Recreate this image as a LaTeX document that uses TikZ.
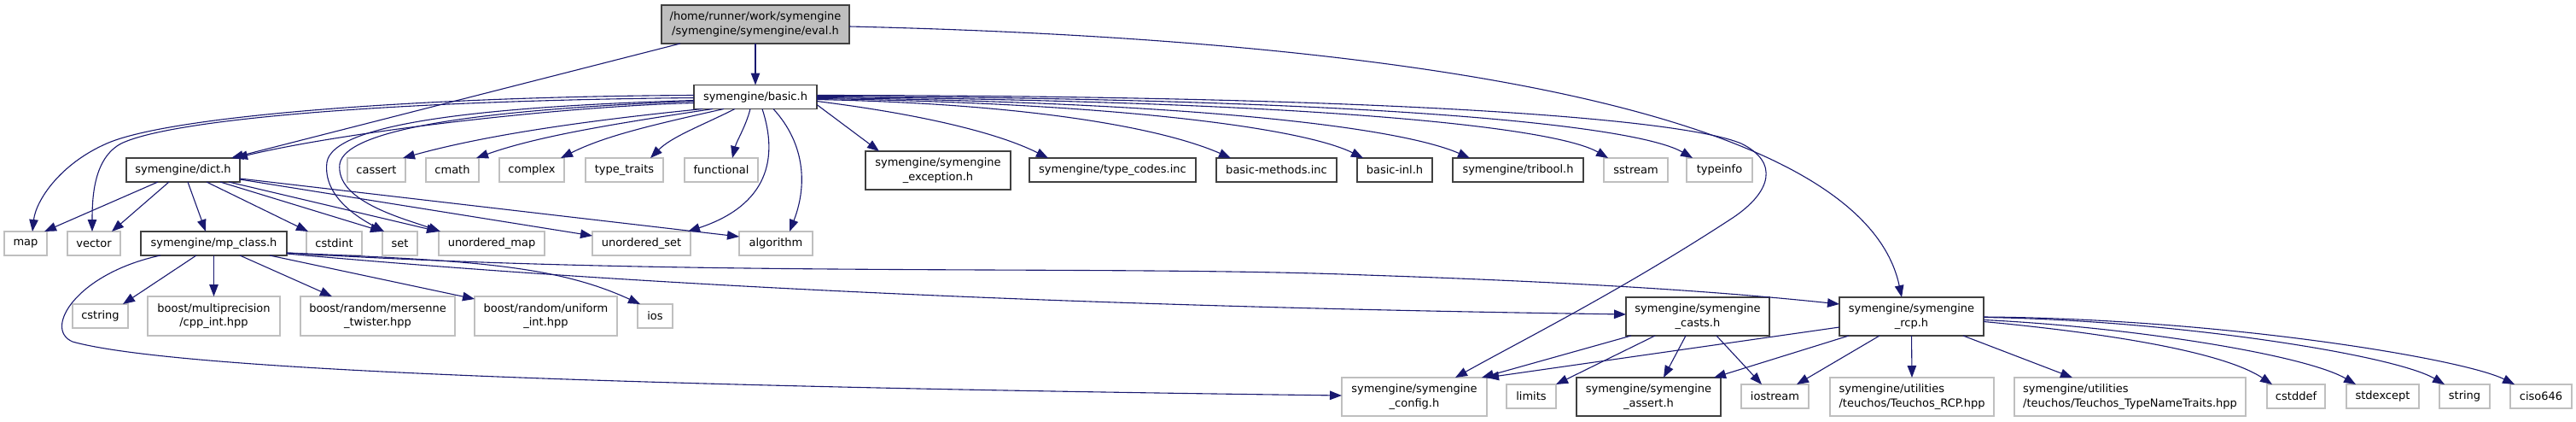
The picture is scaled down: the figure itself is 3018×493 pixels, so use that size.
\documentclass[tikz,border=0pt]{standalone}
\usepackage{fontspec}
\setmainfont{DejaVu Sans}
\usetikzlibrary{arrows.meta}
\definecolor{edgeblue}{HTML}{191970}
\definecolor{extgray}{HTML}{BFBFBF}
\definecolor{evalfill}{HTML}{BFBFBF}
\definecolor{docborder}{HTML}{404040}
\newcommand{\gnode}[6]{\node[#1,minimum width=#4pt,minimum height=#5pt] (#2) at (#3) {#6};}
\begin{document}
\begin{tikzpicture}[x=1pt,y=-1pt,
  box/.style={line width=1.1pt,inner sep=0pt,outer sep=0pt,fill=white,
    font=\fontsize{13}{16.7}\selectfont,align=center},
  doc/.style={box,draw=docborder},
  ext/.style={box,draw=extgray},
  evalbox/.style={box,draw=docborder,fill=evalfill},
  edge/.style={draw=edgeblue,line width=1.1pt,-{Triangle[length=14pt,width=10.5pt]}}]
\fill[white] (0,0) rectangle (3018,493);
\useasboundingbox (0,0) rectangle (3018,493);
% documented nodes
\gnode{evalbox}{eval}{885,28.5}{220}{45}{/home/runner/work/symengine\\/symengine/symengine/eval.h}
\gnode{doc}{basic}{885,113.5}{144}{28}{symengine/basic.h}
\gnode{doc}{dict}{214.5,199}{133}{28}{symengine/dict.h}
\gnode{doc}{exception}{1099,199.5}{170}{45}{symengine/symengine\\\_exception.h}
\gnode{doc}{typecodes}{1303.5,199}{195}{28}{symengine/type\_codes.inc}
\gnode{doc}{bmethods}{1495.5,199}{141}{28}{basic-methods.inc}
\gnode{doc}{binl}{1634,199}{88}{28}{basic-inl.h}
\gnode{doc}{tribool}{1778.5,199}{153}{28}{symengine/tribool.h}
\gnode{doc}{mpclass}{250.5,285}{171}{28}{symengine/mp\_class.h}
\gnode{doc}{casts}{1989,370.5}{168}{45}{symengine/symengine\\\_casts.h}
\gnode{doc}{rcp}{2239.5,370.5}{169}{45}{symengine/symengine\\\_rcp.h}
\gnode{doc}{assert}{1931.5,464.5}{169}{45}{symengine/symengine\\\_assert.h}
% external nodes
\gnode{ext}{cassert}{441,199}{68}{28}{cassert}
\gnode{ext}{cmath}{530,199}{62}{28}{cmath}
\gnode{ext}{complex}{623,199}{76}{28}{complex}
\gnode{ext}{ttraits}{731.5,199}{91}{28}{type\_traits}
\gnode{ext}{functional}{845,199}{86}{28}{functional}
\gnode{ext}{sstream}{1916.5,199}{75}{28}{sstream}
\gnode{ext}{typeinfo}{2014.5,199}{77}{28}{typeinfo}
\gnode{ext}{map}{30,285}{50}{28}{map}
\gnode{ext}{vector}{110,285}{62}{28}{vector}
\gnode{ext}{cstdint}{391.5,285}{65}{28}{cstdint}
\gnode{ext}{set}{468.5,285}{41}{28}{set}
\gnode{ext}{umap}{576,285}{124}{28}{unordered\_map}
\gnode{ext}{uset}{751.5,285}{115}{28}{unordered\_set}
\gnode{ext}{algorithm}{909,285}{86}{28}{algorithm}
\gnode{ext}{cstring}{117.5,370}{65}{28}{cstring}
\gnode{ext}{cppint}{250.5,370}{155}{46}{boost/multiprecision\\/cpp\_int.hpp}
\gnode{ext}{mersenne}{442.5,370}{181}{46}{boost/random/mersenne\\\_twister.hpp}
\gnode{ext}{uniform}{639.5,370}{167}{46}{boost/random/uniform\\\_int.hpp}
\gnode{ext}{ios}{767.5,370}{41}{28}{ios}
\gnode{ext}{config}{1657,464.5}{170}{45}{symengine/symengine\\\_config.h}
\gnode{ext}{limits}{1794,464}{58}{28}{limits}
\gnode{ext}{iostream}{2079.5,464}{79}{28}{iostream}
\gnode{ext,align=left}{teuchosrcp}{2240,464.5}{192}{45}{symengine/utilities\\/teuchos/Teuchos\_RCP.hpp}
\gnode{ext,align=left}{typename}{2495.5,464.5}{271}{45}{symengine/utilities\\/teuchos/Teuchos\_TypeNameTraits.hpp}
\gnode{ext}{cstddef}{2690,464}{68}{28}{cstddef}
\gnode{ext}{stdexcept}{2791.5,464}{85}{28}{stdexcept}
\gnode{ext}{string}{2887.5,464}{59}{28}{string}
\gnode{ext}{ciso}{2977,464}{72}{28}{ciso646}
% eval edges
\draw[edge] (eval.south) -- (basic.north);
\draw[edge] ([xshift=22pt]eval.south west) -- ([xshift=-10pt]dict.north east);
\draw[edge] ([yshift=-2.5pt]eval.east) .. controls (1600,45) and (2180,120) .. ([xshift=-11.5pt]rcp.north);
% basic edges
\draw[edge] ([yshift=-7pt]basic.west) .. controls (650,125) and (400,155) .. ([xshift=-5pt]dict.north east);
\draw[edge] ([yshift=2pt]basic.west) .. controls (500,113) and (200,135) .. (125,168) .. controls (70,192) and (42,235) .. ([xshift=8pt]map.north);
\draw[edge] ([yshift=-1pt]basic.west) .. controls (450,118) and (200,140) .. (142,168) .. controls (110,185) and (108,230) .. ([xshift=-2pt]vector.north);
\draw[edge] ([yshift=-4pt]basic.west) .. controls (560,125) and (390,145) .. (383,190) .. controls (378,230) and (420,255) .. ([xshift=2pt]set.north west);
\draw[edge] ([yshift=-5pt]basic.west) .. controls (570,128) and (405,150) .. (398,192) .. controls (393,235) and (470,255) .. ([xshift=2pt]umap.north west);
\draw[edge] ([xshift=80pt]basic.south west) .. controls (912,185) and (900,240) .. ([xshift=-3pt]uset.north east);
\draw[edge] ([xshift=93pt]basic.south west) .. controls (945,170) and (945,220) .. ([xshift=16pt]algorithm.north);
\draw[edge] ([xshift=10pt]basic.south west) .. controls +(-150,15) and +(90,-25) .. ([xshift=-3pt]cassert.north east);
\draw[edge] ([xshift=22pt]basic.south west) .. controls +(-120,18) and +(70,-25) .. ([xshift=-3pt]cmath.north east);
\draw[edge] ([xshift=35pt]basic.south west) .. controls +(-90,20) and +(50,-25) .. ([xshift=-4pt]complex.north east);
\draw[edge] ([xshift=48pt]basic.south west) .. controls +(-40,20) and +(25,-25) .. ([xshift=-15pt]ttraits.north east);
\draw[edge] ([xshift=66pt]basic.south west) .. controls +(-5,20) and +(5,-20) .. ([xshift=13pt]functional.north);
\draw[edge] ([yshift=-9pt]basic.east) -- ([xshift=16pt]exception.north west);
\draw[edge] ([yshift=-5pt]basic.east) .. controls +(120,15) and +(-60,-30) .. ([xshift=22pt]typecodes.north west);
\draw[edge] ([yshift=-3pt]basic.east) .. controls +(250,5) and +(-80,-35) .. ([xshift=17pt]bmethods.north west);
\draw[edge] ([yshift=-2pt]basic.east) .. controls +(350,5) and +(-70,-35) .. ([xshift=7pt]binl.north west);
\draw[edge] ([yshift=-1pt]basic.east) .. controls +(450,5) and +(-80,-35) .. ([xshift=20pt]tribool.north west);
\draw[edge] (basic.east) .. controls +(600,5) and +(-60,-35) .. ([xshift=5pt]sstream.north west);
\draw[edge] ([yshift=1pt]basic.east) .. controls +(700,3) and +(-60,-35) .. ([xshift=7pt]typeinfo.north west);
\draw[edge] ([yshift=2pt]basic.east) .. controls (1600,112) and (1965,137) .. (2040,168) .. controls (2085,190) and (2075,225) .. (2030,255) .. controls (1900,340) and (1780,400) .. ([xshift=48pt]config.north);
% dict edges
\draw[edge] ([xshift=37pt]dict.south west) -- ([xshift=-3pt]map.north east);
\draw[edge] ([xshift=50pt]dict.south west) -- ([xshift=-10pt]vector.north east);
\draw[edge] ([xshift=72pt]dict.south west) -- ([xshift=-9.5pt]mpclass.north);
\draw[edge] ([xshift=94pt]dict.south west) -- ([xshift=2pt]cstdint.north west);
\draw[edge] ([xshift=110pt]dict.south west) -- (set.north west);
\draw[edge] ([xshift=-13pt]dict.south east) -- (umap.north west);
\draw[edge] ([yshift=-11pt]dict.east) -- ([yshift=9pt]uset.west);
\draw[edge] ([yshift=-10pt]dict.east) -- ([yshift=8pt]algorithm.west);
% mp_class edges
\draw[edge] ([xshift=65pt]mpclass.south west) -- ([xshift=-6pt]cstring.north east);
\draw[edge] (mpclass.south) -- (cppint.north);
\draw[edge] ([xshift=116pt]mpclass.south west) -- ([xshift=37pt]mersenne.north west);
\draw[edge] ([xshift=151pt]mpclass.south west) -- ([yshift=-3pt]uniform.north west);
\draw[edge] ([yshift=-11pt]mpclass.east) .. controls (550,305) and (650,310) .. ([xshift=3pt]ios.north west);
\draw[edge] ([yshift=-12pt]mpclass.east) .. controls (700,330) and (1200,358) .. ([yshift=2.5pt]casts.west);
\draw[edge] ([yshift=-11pt]mpclass.east) .. controls (800,325) and (1300,310) .. (1600,322) .. controls (1900,332) and (2050,345) .. ([yshift=14.5pt]rcp.west);
\draw[edge] ([xshift=23pt]mpclass.south west) .. controls (90,320) and (50,385) .. (85,400) .. controls (200,432) and (700,452) .. ([yshift=1.5pt]config.west);
% casts edges
\draw[edge] ([xshift=6pt]casts.south west) -- ([xshift=-6pt]config.north east);
\draw[edge] ([xshift=34pt]casts.south west) -- (limits.north east);
\draw[edge] ([xshift=70pt]casts.south west) -- ([xshift=17.5pt]assert.north);
\draw[edge] ([xshift=106pt]casts.south west) -- ([xshift=24pt]iostream.north west);
% rcp edges
\draw[edge] ([yshift=-12.5pt]rcp.west) -- (config.north east);
\draw[edge] ([xshift=11pt]rcp.south west) -- ([xshift=-8pt]assert.north east);
\draw[edge] ([xshift=47pt]rcp.south west) -- ([xshift=-14pt]iostream.north east);
\draw[edge] (rcp.south) -- (teuchosrcp.north);
\draw[edge] ([xshift=145pt]rcp.south west) -- ([xshift=68pt]typename.north west);
\draw[edge] ([yshift=-6pt]rcp.east) .. controls +(130,12) and +(-60,-40) .. ([xshift=6pt]cstddef.north west);
\draw[edge] ([yshift=-4pt]rcp.east) .. controls +(170,8) and +(-60,-35) .. ([xshift=11pt]stdexcept.north west);
\draw[edge] ([yshift=-1pt]rcp.east) .. controls +(220,3) and +(-60,-35) .. ([xshift=6pt]string.north west);
\draw[edge] ([yshift=-0.5pt]rcp.east) .. controls +(280,2) and +(-60,-30) .. ([xshift=5pt]ciso.north west);
\end{tikzpicture}
\end{document}
